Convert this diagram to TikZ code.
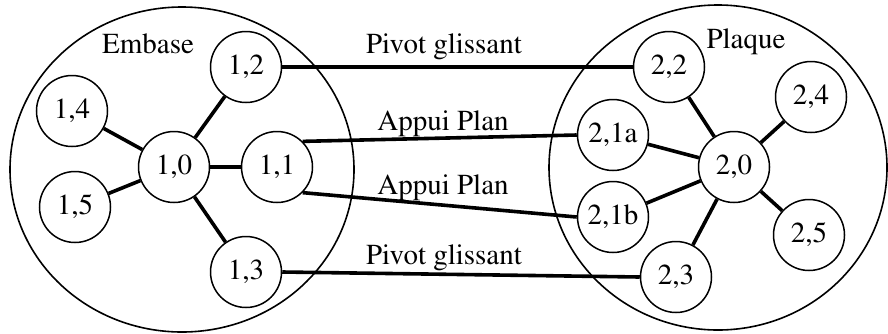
\documentclass[tikz,border=0pt]{standalone}
\usepackage[T1]{fontenc}
\usepackage{mathptmx}

\begin{document}
\begin{tikzpicture}[x=0.5pt, y=-0.5pt,
    every node/.style={font=\rmfamily\fontsize{14.5}{17}\selectfont},
    part/.style={draw, circle, line width=0.75pt, minimum size=35.5pt, inner sep=0pt},
    link/.style={line width=1.8pt}]
  \useasboundingbox (0,0) rectangle (888,333);

  % the two sub-assemblies
  \draw[line width=0.8pt] (182,169.5) ellipse [x radius=172, y radius=162.5];
  \draw[line width=0.8pt] (718,167.5) ellipse [x radius=169, y radius=162.5];
  \node (embase) at (148,44) {Embase};
  \node (plaque) at (746,42) {Plaque};

  % Embase parts
  \node[part] (n10) at (174,167) {1,0};
  \node[part] (n11) at (277,167) {1,1};
  \node[part] (n12) at (246,67)  {1,2};
  \node[part] (n13) at (246,272) {1,3};
  \node[part] (n14) at (72,111)  {1,4};
  \node[part] (n15) at (75,207)  {1,5};

  % Plaque parts
  \node[part] (n20)  at (734,167) {2,0};
  \node[part] (n21a) at (613,135) {2,1a};
  \node[part] (n21b) at (613,217) {2,1b};
  \node[part] (n22)  at (669,67)  {2,2};
  \node[part] (n23)  at (676,277) {2,3};
  \node[part] (n24)  at (811,97)  {2,4};
  \node[part] (n25)  at (809,235) {2,5};

  \foreach \n in {n11,n12,n13,n14,n15} {
    \draw[link] (n10) -- (\n);
  }
  \foreach \n in {n21a,n21b,n22,n23,n24,n25} {
    \draw[link] (n20) -- (\n);
  }

  % liaisons
  \draw[link] (n12.east) -- (n22.west);
  \draw[link] (n11.north east) -- (n21a.west);
  \draw[link] (n11.south east) -- (n21b.west);
  \draw[link] (n13.east) -- (n23.west);

  \node (pivA) at (444,47)  {Pivot glissant};
  \node (appA) at (443,124) {Appui Plan};
  \node (appB) at (443,188) {Appui Plan};
  \node (pivB) at (444,258) {Pivot glissant};
\end{tikzpicture}
\end{document}
